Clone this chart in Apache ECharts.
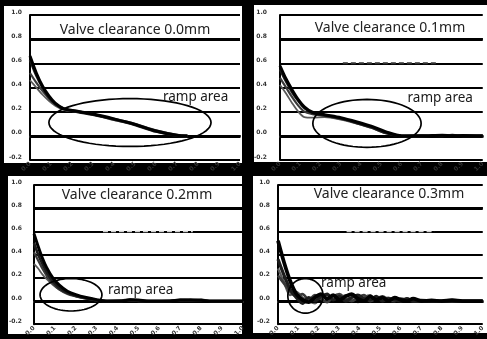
<!DOCTYPE html>
<html>
<head>
<meta charset="utf-8">
<script src="https://cdn.jsdelivr.net/npm/echarts@6/dist/echarts.min.js"></script>
<style>
  html, body { margin: 0; padding: 0; background: #000; }
  #chart { width: 487px; height: 339px; }
</style>
</head>
<body>
<div id="chart"></div>
<script>
// Panel titles
const panelTitles = ['Valve clearance 0.0mm', 'Valve clearance 0.1mm', 'Valve clearance 0.2mm', 'Valve clearance 0.3mm'];

// Tick labels
const xTickLabels = ['0.0', '0.1', '0.2', '0.3', '0.4', '0.5', '0.6', '0.7', '0.8', '0.9', '1.0'];
const yTicks = [-0.2, 0.0, 0.2, 0.4, 0.6, 0.8, 1.0];

// 0.0 mm clearance
const t00 = [0, 0.3, 0.6, 0.9, 1.2, 1.6, 2.2, 3.0, 4.0, 5.0, 6.0, 7.0, 7.5];
const c00a = [0.66, 0.52, 0.41, 0.33, 0.27, 0.225, 0.205, 0.18, 0.14, 0.095, 0.04, 0.005, 0.0];
const c00b = [0.63, 0.50, 0.40, 0.32, 0.265, 0.225, 0.20, 0.175, 0.135, 0.09, 0.035, 0.0, -0.005];
const c00c = [0.52, 0.44, 0.37, 0.31, 0.26, 0.22, 0.205, 0.18, 0.14, 0.10, 0.045, 0.008, 0.0];
const c00d = [0.46, 0.40, 0.34, 0.29, 0.25, 0.215, 0.20, 0.175, 0.13, 0.09, 0.04, 0.003, 0.0];

// 0.1 mm clearance
const t01 = [0, 0.3, 0.6, 0.9, 1.2, 1.6, 2.2, 3.0, 3.8, 4.5, 5.2, 6.0, 7.0, 8.0, 8.5, 9.0, 10.0];
const c01a = [0.58, 0.47, 0.38, 0.30, 0.24, 0.195, 0.175, 0.15, 0.115, 0.08, 0.035, 0.0, 0.0, 0.005, 0.0, 0.003, 0.0];
const c01b = [0.55, 0.45, 0.36, 0.29, 0.23, 0.19, 0.17, 0.145, 0.105, 0.07, 0.025, -0.003, 0.002, 0.0, 0.006, 0.0, 0.0];
const c01c = [0.48, 0.40, 0.32, 0.25, 0.20, 0.18, 0.165, 0.14, 0.11, 0.075, 0.03, 0.0, -0.002, 0.0, 0.0, 0.002, 0.0];
const c01d = [0.42, 0.35, 0.27, 0.20, 0.155, 0.15, 0.155, 0.135, 0.10, 0.065, 0.02, 0.0, 0.0, 0.0, 0.0, 0.0, 0.0];

// 0.2 mm clearance
const t02 = [0, 0.2, 0.4, 0.6, 0.9, 1.2, 1.6, 2.0, 2.5, 3.0, 3.5, 4.2, 4.6, 5.0, 5.5, 6.5, 7.0, 7.5, 8.0, 8.5, 9.0, 10.0];
const c02a = [0.58, 0.47, 0.37, 0.29, 0.20, 0.14, 0.085, 0.055, 0.03, 0.012, 0.0, 0.0, 0.01, 0.008, 0.0, 0.0, 0.008, 0.01, 0.006, 0.0, 0.0, 0.0];
const c02b = [0.50, 0.40, 0.32, 0.25, 0.17, 0.115, 0.07, 0.045, 0.025, 0.008, 0.0, 0.004, 0.012, 0.004, 0.0, 0.002, 0.01, 0.006, 0.01, 0.0, 0.0, 0.0];
const c02c = [0.42, 0.35, 0.28, 0.22, 0.15, 0.10, 0.06, 0.04, 0.02, 0.005, 0.0, 0.0, 0.006, 0.0, 0.0, 0.0, 0.004, 0.008, 0.004, 0.0, 0.0, 0.0];
const c02d = [0.32, 0.28, 0.23, 0.19, 0.14, 0.10, 0.065, 0.04, 0.02, 0.0, -0.003, 0.0, 0.0, 0.0, 0.0, 0.0, 0.0, 0.0, 0.0, 0.0, 0.0, 0.0];

// 0.3 mm clearance
const t03 = [0, 0.3, 0.6, 0.9, 1.2, 1.5, 1.8, 2.1, 2.4, 2.7, 3.0, 3.3, 3.6, 3.9, 4.2, 4.5, 4.8, 5.1, 5.4, 5.7, 6.0, 6.3, 6.6, 7.0, 7.5, 8.0, 8.5, 9.0, 10.0];
const c03a = [0.52, 0.33, 0.17, 0.06, 0.01, -0.01, 0.03, 0.06, 0.02, 0.05, 0.01, 0.04, 0.06, 0.02, 0.0, 0.04, 0.01, 0.03, 0.0, 0.03, 0.01, 0.0, 0.02, 0.0, 0.005, 0.0, 0.008, 0.0, 0.0];
const c03b = [0.36, 0.22, 0.10, 0.03, -0.02, 0.03, 0.0, 0.04, 0.06, 0.01, 0.04, 0.0, 0.03, 0.05, 0.02, 0.01, 0.04, 0.0, 0.02, 0.01, 0.0, 0.02, 0.0, 0.006, 0.0, 0.0, 0.005, 0.0, 0.0];
const c03c = [0.22, 0.15, 0.08, 0.04, 0.06, 0.01, 0.05, 0.02, -0.01, 0.04, 0.06, 0.02, 0.0, 0.03, 0.05, 0.0, 0.02, 0.04, 0.01, 0.0, 0.02, 0.01, 0.0, 0.0, 0.004, 0.0, 0.0, 0.0, 0.0];
const c03d = [0.28, 0.16, 0.05, 0.08, 0.03, 0.0, -0.02, 0.03, 0.05, 0.0, 0.02, 0.05, 0.01, -0.01, 0.03, 0.05, 0.0, 0.02, 0.03, 0.0, 0.0, 0.01, 0.0, 0.003, 0.0, 0.0, 0.0, 0.0, 0.0];

// Ramp-area outlines: centre x, centre y, radius x, radius y (data units), label x, label y
const ramp00 = [4.76, 0.11, 3.86, 0.198, 6.33, 0.32];
const ramp01 = [4.29, 0.103, 2.67, 0.198, 6.29, 0.31];
const ramp02 = [1.77, 0.054, 1.48, 0.14, 3.54, 0.095];
const ramp03 = [1.34, 0.045, 0.86, 0.149, 2.1, 0.153];

// Faint stray trace at 0.6: level, from x, to x
const trace01 = [0.6, 3.1, 7.7];
const trace02 = [0.6, 3.3, 7.6];
const trace03 = [0.6, 3.35, 7.65];

const panels = [
  { t: t00, curves: [c00a, c00b, c00c, c00d], ramp: ramp00, trace: null, w: 1.0 },
  { t: t01, curves: [c01a, c01b, c01c, c01d], ramp: ramp01, trace: trace01, traceColor: '#333', traceWidth: 2, w: 1.0 },
  { t: t02, curves: [c02a, c02b, c02c, c02d], ramp: ramp02, trace: trace02, traceColor: '#d0d0d0', traceWidth: 1.5, w: 1.0 },
  { t: t03, curves: [c03a, c03b, c03c, c03d], ramp: ramp03, trace: trace03, traceColor: '#d0d0d0', traceWidth: 1.5, w: 1.25 }
];

// Layout of the four panels
const layout = [
  { left: 30, top: 15, width: 210, height: 145, yMargin: 8, box: [4, 6, 238, 157], tx: 135, ty: 30 },
  { left: 280, top: 15, width: 210, height: 145, yMargin: 13, box: [254, 5, 233, 157], tx: 390, ty: 28 },
  { left: 34, top: 185, width: 209, height: 145, yMargin: 12, box: [8, 176, 234, 158], tx: 137, ty: 195 },
  { left: 278, top: 185, width: 209, height: 145, yMargin: 8, box: [253, 176, 234, 157], tx: 389, ty: 194 }
];

const curveStyles = [
  { color: '#000', width: 3.0 },
  { color: '#1c1c1c', width: 2.6 },
  { color: '#3a3a3a', width: 2.2 },
  { color: '#5a5a5a', width: 1.8 }
];

function zip(xs, ys) { return xs.map((x, i) => [x, ys[i]]); }

function renderRamp(params, api) {
  const c = api.coord([api.value(0), api.value(1)]);
  const s = api.size([api.value(2), api.value(3)]);
  const pts = [];
  for (let k = 0; k < 72; k++) {
    const a = (k / 72) * Math.PI * 2;
    pts.push([c[0] + s[0] * Math.cos(a), c[1] + s[1] * Math.sin(a)]);
  }
  const t = api.coord([api.value(4), api.value(5)]);
  return {
    type: 'group',
    children: [
      { type: 'polygon', shape: { points: pts }, style: { fill: 'none', stroke: '#000', lineWidth: 1.7 } },
      { type: 'text', x: t[0], y: t[1], style: { text: 'ramp area', font: '13.5px "Noto Sans"', fill: '#1a1a1a', textAlign: 'left', textVerticalAlign: 'middle' } }
    ]
  };
}

const grid = [], xAxis = [], yAxis = [], series = [], graphic = [];

panels.forEach((p, i) => {
  const L = layout[i];
  graphic.push({ type: 'rect', z: -10, shape: { x: L.box[0], y: L.box[1], width: L.box[2], height: L.box[3] }, style: { fill: '#fff' } });
  graphic.push({ type: 'text', z: 10, x: L.tx, y: L.ty, style: { text: panelTitles[i], font: '14px "Noto Sans"', fill: '#222', textAlign: 'center', textVerticalAlign: 'middle' } });

  grid.push({ left: L.left, top: L.top, width: L.width, height: L.height, containLabel: false });
  xAxis.push({
    gridIndex: i, type: 'value', min: 0, max: 10, interval: 1,
    axisLine: { show: true, onZero: true, lineStyle: { color: '#000', width: 2 } },
    axisTick: { show: true, length: 2, lineStyle: { color: '#333', width: 1.5 } },
    splitLine: { show: false },
    axisLabel: {
      rotate: 45, fontSize: 6, fontWeight: 'bold', color: '#333', margin: 3,
      fontFamily: 'DejaVu Sans',
      formatter: v => xTickLabels[Math.round(v)]
    }
  });
  yAxis.push({
    gridIndex: i, type: 'value', min: yTicks[0], max: yTicks[yTicks.length - 1], interval: 0.2,
    axisLine: { show: true, onZero: false, lineStyle: { color: '#000', width: 2 } },
    axisTick: { show: false },
    splitLine: { show: true, lineStyle: { color: '#000', width: 2 } },
    axisLabel: {
      fontSize: 6, fontWeight: 'bold', color: '#333', margin: L.yMargin,
      fontFamily: 'DejaVu Sans', verticalAlign: 'bottom',
      formatter: v => v.toFixed(1)
    }
  });

  // heavier reference lines at 0.8 and 0.0
  series.push({
    type: 'line', xAxisIndex: i, yAxisIndex: i, data: [], silent: true,
    markLine: {
      symbol: 'none', silent: true, label: { show: false },
      lineStyle: { color: '#000', width: 3.2, type: 'solid' },
      data: [{ yAxis: 0.8 }, { yAxis: 0.0 }]
    }
  });

  if (p.trace) {
    series.push({
      type: 'line', xAxisIndex: i, yAxisIndex: i, showSymbol: false, silent: true,
      data: [[p.trace[1], p.trace[0]], [p.trace[2], p.trace[0]]],
      lineStyle: { color: p.traceColor, width: p.traceWidth, type: [5, 3] }, z: 3
    });
  }

  p.curves.forEach((c, k) => {
    series.push({
      type: 'line', xAxisIndex: i, yAxisIndex: i, showSymbol: false, silent: true,
      smooth: 0.3, data: zip(p.t, c),
      lineStyle: { color: curveStyles[k].color, width: curveStyles[k].width * p.w }, z: 7 - k
    });
  });

  series.push({
    type: 'custom', xAxisIndex: i, yAxisIndex: i, silent: true, clip: false, z: 10,
    renderItem: renderRamp,
    encode: { x: 0, y: 1 },
    data: [p.ramp]
  });
});

const chart = echarts.init(document.getElementById('chart'), null, { renderer: 'canvas' });
chart.setOption({
  backgroundColor: '#000',
  animation: false,
  graphic: graphic,
  grid: grid,
  xAxis: xAxis,
  yAxis: yAxis,
  series: series
});
</script>
</body>
</html>
